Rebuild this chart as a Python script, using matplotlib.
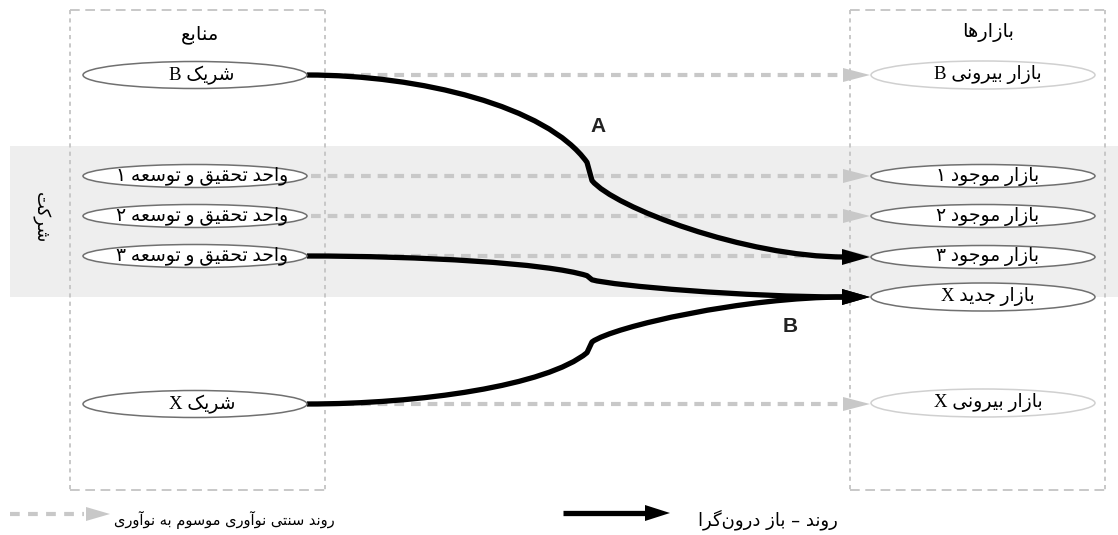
import matplotlib
matplotlib.use("Agg")
import matplotlib.pyplot as plt
from matplotlib.patches import Ellipse, Polygon, PathPatch, Rectangle
from matplotlib.path import Path

plt.rcParams['lines.scale_dashes'] = False

# --- data -------------------------------------------------------------
source_labels = ['شریک B', 'واحد تحقیق و توسعه ۱', 'واحد تحقیق و توسعه ۲',
                 'واحد تحقیق و توسعه ۳', 'شریک X']
source_rows = [75, 176, 216, 256, 404]
market_labels = ['بازار بیرونی B', 'بازار موجود ۱', 'بازار موجود ۲',
                 'بازار موجود ۳', 'بازار جدید X', 'بازار بیرونی X']
market_rows = [75, 176, 216, 257, 297, 403]
market_external = [True, False, False, False, False, True]

# traditional (closed) flows: source -> market
closed_flows = [(0, 0), (1, 1), (2, 2), (3, 3), (4, 5)]
# open-innovation flows: source -> market
open_flows = [(0, 3), (3, 4), (4, 4)]
flow_names = ['A', 'B']

title_sources = 'منابع'
title_markets = 'بازارها'
firm_label = 'شرکت'
legend_closed = 'روند سنتی نوآوری موسوم به نوآوری'
legend_open = 'روند – باز درون\u200cگرا'

# --- minimal Persian shaping (matplotlib does no Arabic shaping) ------
FORMS = {
    'ا': ('\uFE8D', '\uFE8E', None, None),
    'آ': ('\uFE81', '\uFE82', None, None),
    'ب': ('\uFE8F', '\uFE90', '\uFE91', '\uFE92'),
    'ت': ('\uFE95', '\uFE96', '\uFE97', '\uFE98'),
    'ج': ('\uFE9D', '\uFE9E', '\uFE9F', '\uFEA0'),
    'ح': ('\uFEA1', '\uFEA2', '\uFEA3', '\uFEA4'),
    'د': ('\uFEA9', '\uFEAA', None, None),
    'ر': ('\uFEAD', '\uFEAE', None, None),
    'ز': ('\uFEAF', '\uFEB0', None, None),
    'س': ('\uFEB1', '\uFEB2', '\uFEB3', '\uFEB4'),
    'ش': ('\uFEB5', '\uFEB6', '\uFEB7', '\uFEB8'),
    'ع': ('\uFEC9', '\uFECA', '\uFECB', '\uFECC'),
    'ق': ('\uFED5', '\uFED6', '\uFED7', '\uFED8'),
    'م': ('\uFEE1', '\uFEE2', '\uFEE3', '\uFEE4'),
    'ن': ('\uFEE5', '\uFEE6', '\uFEE7', '\uFEE8'),
    'ه': ('\uFEE9', '\uFEEA', '\uFEEB', '\uFEEC'),
    'و': ('\uFEED', '\uFEEE', None, None),
    'ی': ('\uFBFC', '\uFBFD', '\uFBFE', '\uFBFF'),
    'ک': ('\uFB8E', '\uFB8F', '\uFB90', '\uFB91'),
    'گ': ('\uFB92', '\uFB93', '\uFB94', '\uFB95'),
}


def fa(s):
    out = []
    for i, c in enumerate(s):
        if c not in FORMS:
            if c != '\u200c':
                out.append(c)
            continue
        prev = s[i - 1] if i > 0 else None
        nxt = s[i + 1] if i + 1 < len(s) else None
        jp = prev in FORMS and FORMS[prev][2] is not None
        jn = FORMS[c][2] is not None and nxt in FORMS
        iso, fin, ini, med = FORMS[c]
        out.append(med if jp and jn else fin if jp else ini if jn else iso)
    return ''.join(reversed(out))


FA = ['DejaVu Sans']
MIX = ['Liberation Serif', 'DejaVu Sans']

# --- layout -----------------------------------------------------------
W, H = 1118, 535
left_cx, right_cx = 195, 983
ell_w = 224
head_x0, head_x1 = 845, 870

fig = plt.figure(figsize=(W / 100, H / 100), dpi=100)
ax = fig.add_axes([0, 0, 1, 1])
ax.set_xlim(0, W)
ax.set_ylim(H, 0)
ax.axis('off')

# firm band
ax.add_patch(Rectangle((10, 146), W - 10, 151, color='#eeeeee', lw=0, zorder=0))
ax.text(40, 218, fa(firm_label), family=FA, fontsize=13, rotation=270,
        ha='center', va='center', zorder=5)

# dashed boxes
box_col = '#c4c4c4'
for x0, x1 in [(70, 325), (850, 1105)]:
    ax.plot([x0, x1], [10, 10], color=box_col, lw=1.3, dashes=(7, 4), zorder=1)
    ax.plot([x0, x1], [490, 490], color=box_col, lw=1.3, dashes=(7, 4), zorder=1)
    ax.plot([x0, x0], [10, 490], color=box_col, lw=1.3, dashes=(3, 3), zorder=1)
    ax.plot([x1, x1], [10, 490], color=box_col, lw=1.3, dashes=(3, 3), zorder=1)

ax.text(200, 35, fa(title_sources), family=FA, fontsize=14, ha='center', va='center')
ax.text(988, 32, fa(title_markets), family=FA, fontsize=14, ha='center', va='center')

# nodes
for lab, y in zip(source_labels, source_rows):
    h = 27 if lab.endswith(('B', 'X')) else 23
    ax.add_patch(Ellipse((left_cx, y), ell_w, h, fc='white', ec='#707070', lw=1.1, zorder=4))
    ax.text(left_cx + 7, y, fa(lab), family=MIX, fontsize=13.5, ha='center',
            va='center', zorder=5)
for lab, y, ext in zip(market_labels, market_rows, market_external):
    h = 28 if lab.endswith(('B', 'X')) else 23
    ax.add_patch(Ellipse((right_cx, y), ell_w, h, fc='white',
                         ec='#d0d0d0' if ext else '#707070', lw=1.1, zorder=4))
    ax.text(right_cx + 5, y, fa(lab), family=MIX, fontsize=13.5, ha='center',
            va='center', zorder=5)

x_start = left_cx + ell_w / 2
gray = '#c8c8c8'


def arrow_head(x0, x1, y, hw, color, z):
    ax.add_patch(Polygon([(x0, y - hw), (x1, y), (x0, y + hw)], closed=True,
                         fc=color, ec='none', zorder=z))


# traditional closed flows
for s, m in closed_flows:
    y = source_rows[s]
    ax.plot([x_start + 4, head_x0], [y, y], color=gray, lw=3, dashes=(7, 5),
            solid_capstyle='butt', zorder=2)
    arrow_head(head_x0 - 2, head_x1, y, 7, gray, 2)


# open flows with a kink in the middle
def flow_path(x0, y0, y1, xm=589):
    dy = y1 - y0
    ya, yb = y0 + 0.48 * dy, y0 + 0.58 * dy
    verts = [(x0, y0),
             (x0 + 0.4 * (xm - x0), y0), (xm - 0.15 * (xm - x0), y0 + 0.17 * dy), (xm - 2, ya),
             (xm + 3, yb),
             (xm + 25, yb + 0.35 * (y1 - yb)), (head_x0 - 100, y1), (head_x0, y1)]
    codes = [Path.MOVETO, Path.CURVE4, Path.CURVE4, Path.CURVE4, Path.LINETO,
             Path.CURVE4, Path.CURVE4, Path.CURVE4]
    return Path(verts, codes)


for s, m in open_flows:
    y0, y1 = source_rows[s], market_rows[m]
    ax.add_patch(PathPatch(flow_path(x_start, y0, y1), fc='none', ec='black',
                           lw=3.8, capstyle='butt', joinstyle='round', zorder=3))
    arrow_head(head_x0 - 3, head_x1, y1, 8, 'black', 3)

ax.text(598, 127, flow_names[0], family='Liberation Sans', fontsize=15,
        fontweight='bold', color='#222222', ha='center', va='center')
ax.text(790, 326, flow_names[1], family='Liberation Sans', fontsize=15,
        fontweight='bold', color='#222222', ha='center', va='center')

# legend
ax.plot([10, 84], [514, 514], color=gray, lw=3, dashes=(7, 6), zorder=2)
arrow_head(86, 110, 514, 7, gray, 2)
ax.text(335, 520, fa(legend_closed), family=FA, fontsize=10.5, ha='right', va='center')
ax.plot([563, 647], [513, 513], color='black', lw=3.8, solid_capstyle='butt')
arrow_head(645, 670, 513, 8, 'black', 3)
ax.text(838, 520, fa(legend_open), family=FA, fontsize=13, ha='right', va='center')

fig.savefig('out.png', dpi=100)
